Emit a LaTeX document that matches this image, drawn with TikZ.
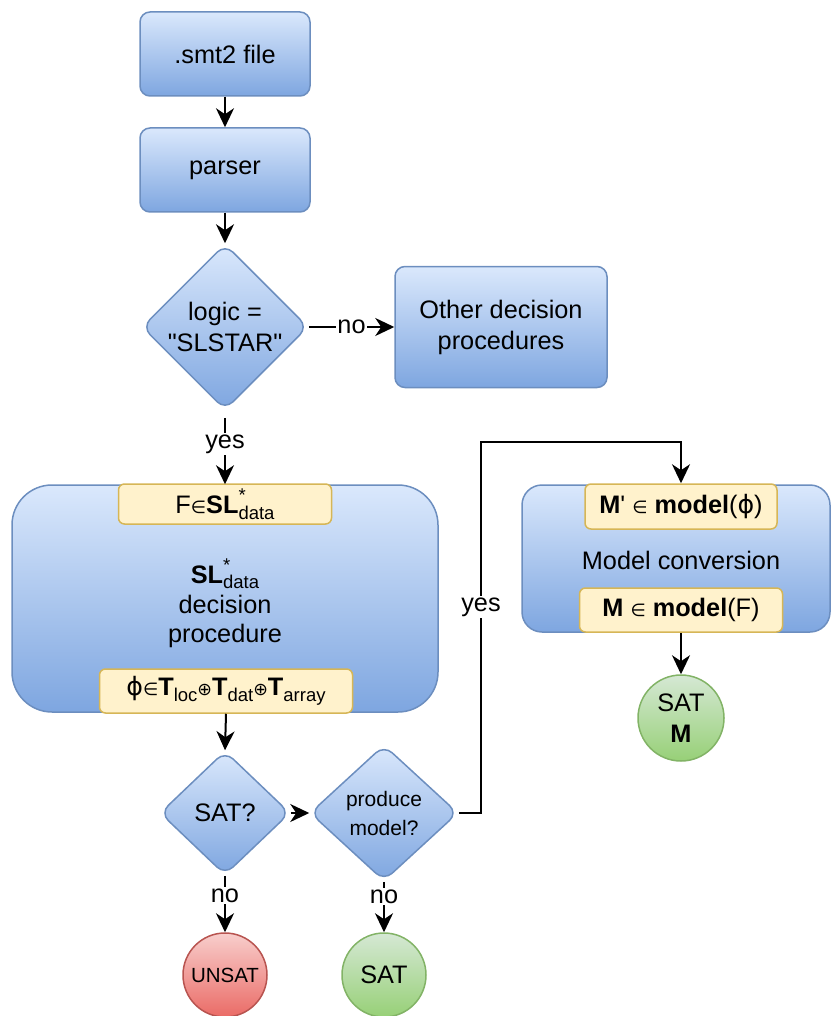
\documentclass[tikz,border=0pt]{standalone}
\usepackage{fontspec}
\setmainfont{Liberation Sans}[Ligatures=TeXOff]
\newfontfamily\symfont{DejaVu Sans}
\usetikzlibrary{shapes.geometric,arrows.meta}

\definecolor{blueTop}{HTML}{DAE8FC}
\definecolor{blueBot}{HTML}{7EA6E0}
\definecolor{blueLine}{HTML}{6C8EBF}
\definecolor{yelFill}{HTML}{FFF2CC}
\definecolor{yelLine}{HTML}{D6B656}
\definecolor{grnTop}{HTML}{D5E8D4}
\definecolor{grnBot}{HTML}{97D077}
\definecolor{grnLine}{HTML}{82B366}
\definecolor{redTop}{HTML}{F8CECC}
\definecolor{redBot}{HTML}{EA6B66}
\definecolor{redLine}{HTML}{B85450}

\newcommand\mainsz{\fontsize{25.3}{31}\selectfont}
\newcommand\smallsz{\fontsize{21}{29}\selectfont}
\newcommand\unsatsz{\fontsize{20.5}{24}\selectfont}
\newcommand\scrsz{\fontsize{18.5}{20}\selectfont}
\newcommand\lowsub[1]{\raisebox{-5.5pt}{\scrsz #1}}
\newcommand\supsub[2]{\rlap{\raisebox{12pt}{\scrsz #1}}\raisebox{-5.5pt}{\scrsz #2}}
\newcommand\elem{{\symfont\fontsize{17.5}{20}\selectfont ∈}}
\newcommand\osum{{\symfont\fontsize{17.5}{20}\selectfont ⊕}}
\newcommand\phisym{{\symfont ϕ}}

\tikzset{
  proc/.style={draw=blueLine, line width=1.5pt, top color=blueTop, bottom color=blueBot,
    rounded corners=10pt, font=\mainsz, align=center, inner sep=0pt},
  decide/.style={diamond, draw=blueLine, line width=1.5pt, top color=blueTop,
    bottom color=blueBot, rounded corners=11pt, inner sep=0pt},
  tag/.style={draw=yelLine, fill=yelFill, line width=1.5pt, rounded corners=6pt,
    font=\mainsz, inner sep=0pt},
  termgreen/.style={circle, draw=grnLine, line width=1.5pt, top color=grnTop,
    bottom color=grnBot, inner sep=0pt, font=\mainsz, align=center},
  termred/.style={circle, draw=redLine, line width=1.5pt, top color=redTop,
    bottom color=redBot, inner sep=0pt, font=\unsatsz, align=center},
  flow/.style={line width=2pt, -{Stealth[length=19pt,width=18pt,inset=6pt]}},
  lbl/.style={fill=white, inner sep=1.5pt, font=\mainsz},
  plain/.style={font=\mainsz, inner sep=0pt}
}

\begin{document}
\begin{tikzpicture}[x=1pt, y=-1pt]
\useasboundingbox (0,0) rectangle (831,1016);

% main pipeline
\node[proc, minimum width=170, minimum height=84] (file) at (225,54) {.smt2 file};
\node[proc, minimum width=170, minimum height=84] (parser) at (225,170) {parser};
\node[decide, minimum width=166, minimum height=166,
  label={[font=\mainsz, align=center]center:logic =\\"SLSTAR"}] (logic) at (225,327) {};
\node[proc, minimum width=212, minimum height=121] (other) at (501,327) {Other decision\\procedures};

% SL* decision procedure
\node[proc, rounded corners=40pt, minimum width=426, minimum height=227] (slbox) at (225,598.5) {};
\node[tag, minimum width=213, minimum height=40] (fin) at (225,504)
  {F\elem\textbf{SL}\supsub{*}{data}};
\node[plain, anchor=base] (sltitle) at (225,583) {\textbf{SL}\supsub{*}{data}};
\node[plain, anchor=base] (sldec) at (225,613) {decision};
\node[plain, anchor=base] (slproc) at (225,642) {procedure};
\node[tag, minimum width=253, minimum height=44] (phi) at (226,691)
  {\phisym\elem\textbf{T}\lowsub{loc}\osum\textbf{T}\lowsub{dat}\osum\textbf{T}\lowsub{array}};

% outcome checks
\node[decide, minimum width=130, minimum height=124,
  label={[font=\mainsz]center:SAT?}] (sat) at (225,813) {};
\node[decide, minimum width=148, minimum height=136,
  label={[font=\smallsz, align=center]center:produce\\model?}] (prod) at (384,813) {};
\node[termred, minimum size=84] (unsat) at (225,975) {UNSAT};
\node[termgreen, minimum size=84] (satplain) at (384,975) {SAT};

% model conversion
\node[proc, rounded corners=20pt, minimum width=308, minimum height=147] (conv) at (676,558.5) {};
\node[tag, minimum width=192, minimum height=45] (mprime) at (681,506.5)
  {\textbf{M}' \elem\ \textbf{model}(\phisym)};
\node[plain] (convtxt) at (681,560) {Model conversion};
\node[tag, minimum width=203, minimum height=44] (mbox) at (681,610)
  {\textbf{M} \elem\ \textbf{model}(F)};
\node[termgreen, minimum size=86] (satm) at (681,718) {SAT\\\textbf{M}};

% connectors
\draw[flow] (file.south) -- (parser.north);
\draw[flow] (parser.south) -- (logic.north);
\draw[flow] (logic.east) -- node[lbl] {no} (other.west);
\draw[flow] ([yshift=-7pt]logic.south) -- node[lbl, pos=0.4] {yes} (slbox.north);
\draw[flow] (phi.south) -- (sat.north);
\draw[flow] (sat.east) -- (prod.west);
\draw[flow] (sat.south) -- node[lbl, pos=0.35] {no} (unsat.north);
\draw[flow] (prod.south) -- node[lbl, pos=0.3] {no} (satplain.north);
\coordinate (bend) at (481,442);
\draw[flow] (prod.east) -| (bend) -| (mprime.north);
\node[lbl] (yesmodel) at (481,607) {yes};
\draw[flow] (mbox.south) -- (satm.north);
\end{tikzpicture}
\end{document}
